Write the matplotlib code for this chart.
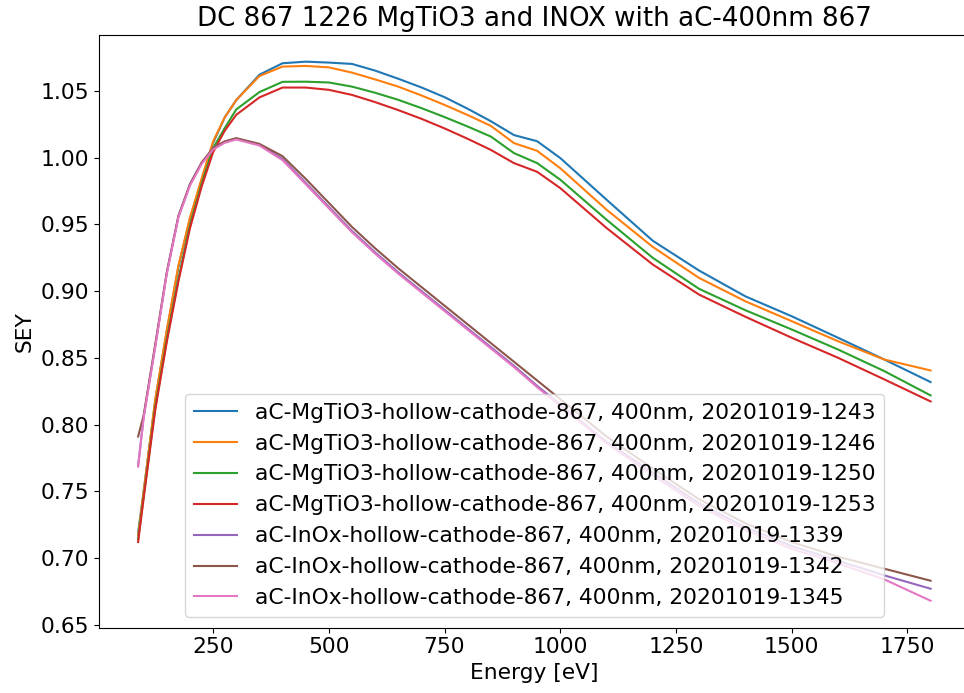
import matplotlib
matplotlib.use("Agg")
import matplotlib.pyplot as plt

energy = [88, 100, 125, 150, 175, 200, 225, 250, 275, 300, 350, 400, 450, 500, 550,
          600, 650, 700, 750, 800, 850, 900, 950, 1000, 1100, 1200, 1300, 1400,
          1500, 1600, 1700, 1800]

sey_1243 = [0.719, 0.750, 0.818, 0.870, 0.918, 0.954, 0.983, 1.011, 1.030, 1.043, 1.062,
            1.0706, 1.0718, 1.0711, 1.0701, 1.0651, 1.0590, 1.0525, 1.0452, 1.0365,
            1.0272, 1.0168, 1.0122, 0.9996, 0.9684, 0.9376, 0.9153, 0.8960, 0.8811,
            0.8650, 0.8487, 0.8318]
sey_1246 = [0.717, 0.750, 0.819, 0.871, 0.919, 0.955, 0.984, 1.012, 1.030, 1.043, 1.061,
            1.0681, 1.0686, 1.0675, 1.0636, 1.0585, 1.0531, 1.0465, 1.0394, 1.0318,
            1.0237, 1.0108, 1.0050, 0.9920, 0.9609, 0.9330, 0.9098, 0.8923, 0.8774,
            0.8624, 0.8487, 0.8405]
sey_1250 = [0.714, 0.746, 0.813, 0.864, 0.909, 0.949, 0.980, 1.007, 1.022, 1.036, 1.049,
            1.0567, 1.0568, 1.0562, 1.0531, 1.0485, 1.0432, 1.0370, 1.0303, 1.0232,
            1.0157, 1.0033, 0.9958, 0.9834, 0.9534, 0.9248, 0.9016, 0.8856, 0.8712,
            0.8562, 0.8400, 0.8218]
sey_1253 = [0.712, 0.745, 0.811, 0.862, 0.907, 0.947, 0.978, 1.004, 1.020, 1.032, 1.045,
            1.0524, 1.0524, 1.0507, 1.0469, 1.0415, 1.0355, 1.0290, 1.0218, 1.0140,
            1.0057, 0.9958, 0.9893, 0.9771, 0.9472, 0.9198, 0.8973, 0.8807, 0.8650,
            0.8500, 0.8338, 0.8173]
sey_1339 = [0.769, 0.806, 0.859, 0.914, 0.956, 0.980, 0.996, 1.007, 1.012, 1.0142, 1.0098,
            0.999, 0.981, 0.963, 0.945, 0.929, 0.914, 0.900, 0.886, 0.872,
            0.858, 0.844, 0.829, 0.815, 0.787, 0.764, 0.741, 0.723, 0.709,
            0.698, 0.687, 0.677]
sey_1342 = [0.791, 0.807, 0.860, 0.914, 0.956, 0.980, 0.996, 1.007, 1.012, 1.0145, 1.0102,
            1.001, 0.984, 0.966, 0.948, 0.932, 0.917, 0.903, 0.889, 0.875,
            0.861, 0.847, 0.833, 0.819, 0.791, 0.767, 0.744, 0.726, 0.712,
            0.701, 0.692, 0.683]
sey_1345 = [0.7685, 0.805, 0.858, 0.913, 0.955, 0.979, 0.995, 1.006, 1.011, 1.0135, 1.009,
            0.998, 0.980, 0.962, 0.944, 0.928, 0.913, 0.899, 0.885, 0.871,
            0.857, 0.843, 0.828, 0.814, 0.786, 0.762, 0.739, 0.721, 0.707,
            0.696, 0.684, 0.668]

labels = [
    "aC-MgTiO3-hollow-cathode-867, 400nm, 20201019-1243",
    "aC-MgTiO3-hollow-cathode-867, 400nm, 20201019-1246",
    "aC-MgTiO3-hollow-cathode-867, 400nm, 20201019-1250",
    "aC-MgTiO3-hollow-cathode-867, 400nm, 20201019-1253",
    "aC-InOx-hollow-cathode-867, 400nm, 20201019-1339",
    "aC-InOx-hollow-cathode-867, 400nm, 20201019-1342",
    "aC-InOx-hollow-cathode-867, 400nm, 20201019-1345",
]
series = [sey_1243, sey_1246, sey_1250, sey_1253, sey_1339, sey_1342, sey_1345]

FS = 15.7

fig = plt.figure(figsize=(9.64, 6.93), dpi=100)
# right side of the axes runs past the figure edge, as in the reference crop
ax = fig.add_axes([98.5 / 964, 1 - 627.7 / 693, 871.7 / 964, 593 / 693])

for values, label in zip(series, labels):
    ax.plot(energy, values, label=label, linewidth=1.5)

ax.set_title("DC 867 1226 MgTiO3 and INOX with aC-400nm 867", fontsize=18.8)
ax.set_xlabel("Energy [eV]", fontsize=FS)
ax.set_ylabel("SEY", fontsize=FS)
ax.tick_params(labelsize=FS)
ax.legend(loc="lower center", fontsize=FS)

fig.savefig("out.png", dpi=100)
